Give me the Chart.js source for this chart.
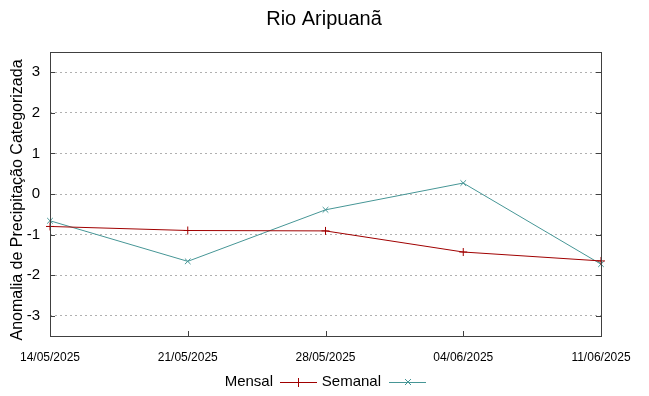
<!DOCTYPE html>
<html>
<head>
<meta charset="utf-8">
<script src="https://cdn.jsdelivr.net/npm/chart.js@4.4.1/dist/chart.umd.min.js"></script>
<style>
  html, body { margin: 0; padding: 0; background: #fff; }
  #wrap { width: 649px; height: 396px; }
</style>
</head>
<body>
<div id="wrap"><canvas id="chart" width="649" height="396"></canvas></div>
<script>
const dates = ['14/05/2025', '21/05/2025', '28/05/2025', '04/06/2025', '11/06/2025'];
const mensal = [-0.80, -0.90, -0.91, -1.43, -1.65];
const semanal = [-0.66, -1.66, -0.39, 0.27, -1.73];
const yTicks = [-3, -2, -1, 0, 1, 2, 3];

const redColor = 'rgb(160,0,0)';
const tealColor = 'rgb(70,150,150)';
const mainFont = '"Liberation Sans", Arial, sans-serif';

// frame, inner ticks, titles and legend in gnuplot style
const decorations = {
    id: 'decorations',
    afterDraw(chart) {
        const ctx = chart.ctx;
        const area = chart.chartArea;
        const x = chart.scales.x;
        const y = chart.scales.y;
        ctx.save();

        // border box
        ctx.strokeStyle = '#404040';
        ctx.lineWidth = 1;
        ctx.strokeRect(Math.round(area.left) + 0.5, Math.round(area.top) + 0.5,
            Math.round(area.right - area.left), Math.round(area.bottom - area.top));

        // inner tick marks
        ctx.beginPath();
        yTicks.forEach(v => {
            const py = Math.round(y.getPixelForValue(v)) + 0.5;
            ctx.moveTo(area.left, py); ctx.lineTo(area.left + 5, py);
            ctx.moveTo(area.right, py); ctx.lineTo(area.right - 5, py);
        });
        dates.forEach((d, i) => {
            const px = Math.round(x.getPixelForValue(i)) + 0.5;
            ctx.moveTo(px, area.bottom); ctx.lineTo(px, area.bottom - 5);
        });
        ctx.stroke();

        // main title
        ctx.fillStyle = '#000';
        ctx.textAlign = 'center';
        ctx.textBaseline = 'middle';
        ctx.font = '20px ' + mainFont;
        ctx.fillText('Rio Aripuanã', 324, 19);

        // y axis title
        ctx.save();
        ctx.translate(18, 200);
        ctx.rotate(-Math.PI / 2);
        ctx.font = '16px ' + mainFont;
        ctx.fillText('Anomalia de Precipitação Categorizada', 0, 0);
        ctx.restore();

        // legend
        ctx.font = '15px ' + mainFont;
        ctx.textAlign = 'right';
        const ly = 382;
        ctx.fillText('Mensal', 273, ly);
        ctx.fillText('Semanal', 381, ly);

        ctx.lineWidth = 1;
        ctx.strokeStyle = redColor;
        ctx.beginPath();
        ctx.moveTo(280, ly + 0.5); ctx.lineTo(317, ly + 0.5);
        ctx.moveTo(298.5, ly - 4); ctx.lineTo(298.5, ly + 5);
        ctx.stroke();

        ctx.strokeStyle = tealColor;
        ctx.beginPath();
        ctx.moveTo(389, ly + 0.5); ctx.lineTo(426, ly + 0.5);
        ctx.moveTo(405, ly - 3); ctx.lineTo(411, ly + 3);
        ctx.moveTo(411, ly - 3); ctx.lineTo(405, ly + 3);
        ctx.stroke();

        ctx.restore();
    }
};

new Chart(document.getElementById('chart'), {
    type: 'line',
    data: {
        labels: dates,
        datasets: [
            {
                label: 'Mensal',
                data: mensal,
                borderColor: redColor,
                backgroundColor: redColor,
                borderWidth: 1,
                pointStyle: 'cross',
                pointRadius: 4,
                pointBorderWidth: 1,
                tension: 0
            },
            {
                label: 'Semanal',
                data: semanal,
                borderColor: tealColor,
                backgroundColor: tealColor,
                borderWidth: 1,
                pointStyle: 'crossRot',
                pointRadius: 4,
                pointBorderWidth: 1,
                tension: 0
            }
        ]
    },
    options: {
        responsive: false,
        animation: false,
        layout: { padding: { top: 52, right: 48, left: 0, bottom: 0 } },
        plugins: {
            legend: { display: false },
            title: { display: false },
            tooltip: { enabled: false }
        },
        scales: {
            x: {
                offset: false,
                grid: { display: false, drawTicks: false },
                border: { display: false },
                ticks: {
                    color: '#000',
                    padding: 14,
                    maxRotation: 0,
                    autoSkip: false,
                    font: { family: '"Liberation Sans Narrow", "Arial Narrow", "Liberation Sans", sans-serif', size: 12 }
                },
                afterFit(scale) { scale.height = 60; }
            },
            y: {
                min: -3.5,
                max: 3.5,
                afterBuildTicks(scale) {
                    scale.ticks = yTicks.map(v => ({ value: v }));
                },
                grid: {
                    color: '#b0b0b0',
                    lineWidth: 1,
                    drawTicks: false
                },
                border: { display: false, dash: [2, 3] },
                ticks: {
                    color: '#000',
                    padding: 10,
                    font: { family: mainFont, size: 15 }
                },
                afterFit(scale) { scale.width = 50; }
            }
        }
    },
    plugins: [decorations]
});
</script>
</body>
</html>
